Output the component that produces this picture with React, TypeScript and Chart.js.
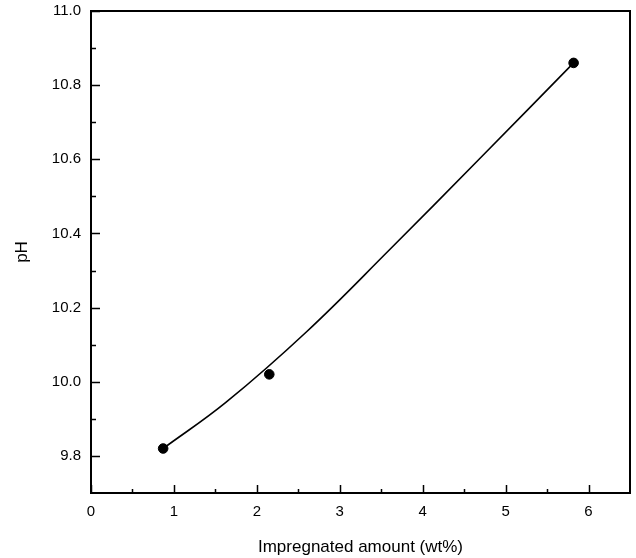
import React, { useEffect, useRef } from "react";
import { Chart, registerables } from "chart.js";

Chart.register(...registerables);

// Measured data points (impregnated amount wt%, pH)
const pointX = [0.87, 2.15, 5.82];
const pointY = [9.82, 10.02, 10.86];

// Fitted curve
const curveX = [0.87, 1.63, 2.6, 3.6, 4.68, 5.82];
const curveY = [9.82, 9.945, 10.135, 10.356, 10.6, 10.86];

const xTicks = [0, 1, 2, 3, 4, 5, 6];
const yTicks = [9.8, 10.0, 10.2, 10.4, 10.6, 10.8, 11.0];
const xMinorTicks = [0.5, 1.5, 2.5, 3.5, 4.5, 5.5];
const yMinorTicks = [9.9, 10.1, 10.3, 10.5, 10.7, 10.9];

const FONT = "'Liberation Sans', Arial, sans-serif";

const framePlugin = {
  id: "frameTicks",
  afterDraw(chart: any) {
    const { ctx, chartArea } = chart;
    const xs = chart.scales.x;
    const ys = chart.scales.y;
    ctx.save();
    ctx.strokeStyle = "#000";
    ctx.lineWidth = 2;
    ctx.strokeRect(chartArea.left, chartArea.top, chartArea.right - chartArea.left, chartArea.bottom - chartArea.top);
    ctx.lineWidth = 1.5;
    ctx.beginPath();
    xTicks.forEach((v) => {
      const p = Math.round(xs.getPixelForValue(v)) + 0.5;
      ctx.moveTo(p, chartArea.bottom);
      ctx.lineTo(p, chartArea.bottom - 8);
    });
    xMinorTicks.forEach((v) => {
      const p = Math.round(xs.getPixelForValue(v)) + 0.5;
      ctx.moveTo(p, chartArea.bottom);
      ctx.lineTo(p, chartArea.bottom - 4);
    });
    yTicks.forEach((v) => {
      const p = Math.round(ys.getPixelForValue(v)) + 0.5;
      ctx.moveTo(chartArea.left, p);
      ctx.lineTo(chartArea.left + 9, p);
    });
    yMinorTicks.forEach((v) => {
      const p = Math.round(ys.getPixelForValue(v)) + 0.5;
      ctx.moveTo(chartArea.left, p);
      ctx.lineTo(chartArea.left + 5, p);
    });
    ctx.stroke();
    ctx.restore();
  },
};

export default function App() {
  const ref = useRef<HTMLCanvasElement | null>(null);
  useEffect(() => {
    if (!ref.current) return;
    const chart = new Chart(ref.current, {
      type: "scatter",
      data: {
        datasets: [
          {
            label: "fit",
            data: curveX.map((x, i) => ({ x, y: curveY[i] })),
            showLine: true,
            borderColor: "#000",
            borderWidth: 1.6,
            pointRadius: 0,
            tension: 0.4,
          } as any,
          {
            label: "data",
            data: pointX.map((x, i) => ({ x, y: pointY[i] })),
            backgroundColor: "#000",
            borderColor: "#000",
            pointRadius: 4.8,
            showLine: false,
          },
        ],
      },
      options: {
        animation: false,
        responsive: true,
        maintainAspectRatio: false,
        layout: { padding: { left: 0, right: 6, top: 11, bottom: 0 } },
        plugins: { legend: { display: false }, tooltip: { enabled: false } },
        scales: {
          x: {
            type: "linear",
            min: 0,
            max: 6.5,
            afterBuildTicks: (s: any) => {
              s.ticks = xTicks.map((v) => ({ value: v }));
            },
            afterFit: (s: any) => {
              s.height = 65;
              s.paddingLeft = 0;
              s.paddingRight = 0;
            },
            grid: { display: false, drawTicks: false },
            border: { display: false },
            ticks: {
              color: "#000",
              font: { family: FONT, size: 15 },
              padding: 10,
              callback: (v: any) => String(v),
            },
            title: {
              display: true,
              text: "Impregnated amount (wt%)",
              color: "#000",
              font: { family: FONT, size: 17 },
              padding: { top: 6, bottom: 0 },
            },
          },
          y: {
            type: "linear",
            min: 9.7,
            max: 11.0,
            afterBuildTicks: (s: any) => {
              s.ticks = yTicks.map((v) => ({ value: v }));
            },
            afterFit: (s: any) => {
              s.width = 91;
              s.paddingTop = 0;
              s.paddingBottom = 0;
            },
            grid: { display: false, drawTicks: false },
            border: { display: false },
            ticks: {
              color: "#000",
              font: { family: FONT, size: 15 },
              padding: 10,
              callback: (v: any) => Number(v).toFixed(1),
            },
            title: {
              display: true,
              text: "pH",
              color: "#000",
              font: { family: FONT, size: 17 },
              padding: { top: 12, bottom: 0 },
            },
          },
        },
      },
      plugins: [framePlugin],
    });
    return () => chart.destroy();
  }, []);
  return (
    <div style={{ position: "fixed", left: 0, top: 0, width: 636, height: 558, background: "#fff" }}>
      <canvas ref={ref} />
    </div>
  );
}
